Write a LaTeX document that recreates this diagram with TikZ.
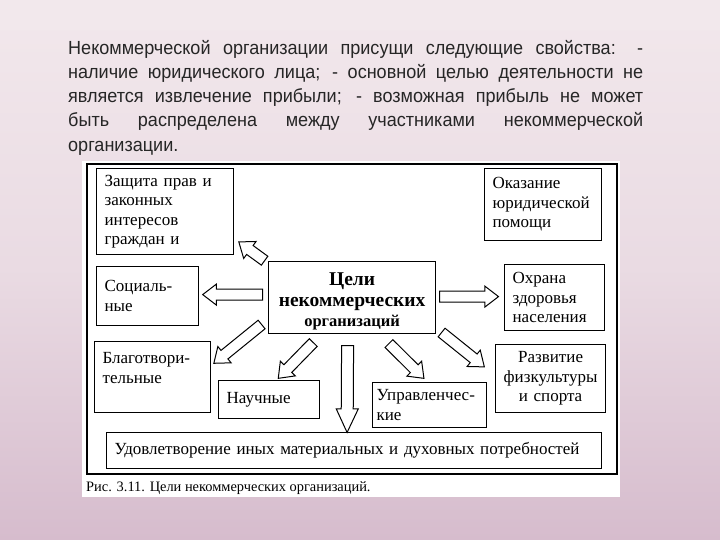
\documentclass[tikz,border=0pt]{standalone}
\usepackage{fontspec}
\setmainfont{Liberation Serif}
\newfontfamily\slidefont[FakeStretch=0.95]{Liberation Sans}
\usetikzlibrary{shapes.arrows,calc}
\definecolor{slidetop}{HTML}{F2E8EC}
\definecolor{slidebottom}{HTML}{D6BCCD}
\tikzset{
  box/.style = {draw, line width=1.2pt, anchor=north west, inner xsep=8pt, inner ysep=3pt,
                align=left, font=\fontsize{17}{19.5}\selectfont},
  goal arrow/.style = {single arrow, draw, line width=1pt, fill=white, inner sep=0pt,
                       text height=5pt, text depth=5pt, minimum width=0pt,
                       single arrow head extend=5pt, single arrow tip angle=75},
  goal/.style = {to path={let \p1=($(\tikztotarget)-(\tikztostart)$),
                 \n1={atan2(\y1,\x1)}, \n2={veclen(\x1,\y1)} in
                 node[goal arrow, minimum height=\n2, rotate=\n1, anchor=tail]
                 at (\tikztostart) {}}},
  bigdown/.style = {goal, goal arrow/.append style={text height=5.5pt, text depth=5.5pt,
                    single arrow head extend=5pt, single arrow tip angle=50}}
}
\newcommand\smallgoal{\fontsize{16.5}{20}\selectfont}

\begin{document}
\begin{tikzpicture}[x=1pt, y=-1pt]
  % slide background
  \shade[top color=slidetop, bottom color=slidebottom, middle color=slidetop!70!slidebottom]
    (0,0) rectangle (720,540);
  \fill[slidetop] (0,0) rectangle (720,30);

  \node[anchor=north west, inner sep=0pt, text width=575pt, align=justify,
        font=\slidefont\fontsize{19}{24.2}\selectfont, text=black!85] (intro) at (68,40)
    {\hyphenpenalty=10000\relax
     Некоммерческой организации присущи следующие свойства: -\linebreak
     наличие юридического лица; - основной целью деятельности не\linebreak
     является извлечение прибыли; - возможная прибыль не может\linebreak
     быть распределена между участниками некоммерческой\linebreak
     организации.};

  % the scanned figure
  \fill[white] (82,161) rectangle (620,497);
  \draw[line width=1.3pt] (87,164) rectangle (617,474);

  \node[box, minimum width=137pt, minimum height=86pt, text width=121pt] (prava) at (96,168)
    {Защита прав и\\законных\\интересов\\граждан и};
  \node[box, minimum width=117pt, minimum height=72pt, text width=101pt] (yurid) at (484,168)
    {Оказание\\юридической\\помощи};
  \node[draw, line width=1.2pt, minimum width=167pt, minimum height=72pt, align=center,
        anchor=north west, inner sep=2pt, text height=63pt, text depth=5pt,
        font=\bfseries\fontsize{19.5}{20.5}\selectfont] (goal) at (268,261)
    {Цели\\некоммерческих\\\smallgoal организаций};
  \node[box, minimum width=102pt, minimum height=59pt, text width=86pt] (social) at (96,266)
    {Социаль-\\ные};
  \node[box, minimum width=100pt, minimum height=66pt, text width=84pt] (health) at (504,264)
    {Охрана\\здоровья\\населения};
  \node[box, minimum width=116pt, minimum height=71pt, text width=100pt,
        text height=19pt, text depth=46pt] (charity) at (94,341)
    {Благотвори-\\тельные};
  \node[box, minimum width=101pt, minimum height=38pt, text width=85pt] (science) at (218,380)
    {Научные};
  \node[box, minimum width=114pt, minimum height=45pt, inner xsep=4pt, text width=106pt,
        text height=15pt, text depth=24pt] (manage) at (372,382)
    {Управленчес-\\кие};
  \node[box, minimum width=110pt, minimum height=68pt, text width=94pt, align=center] (sport) at (495,344)
    {Развитие\\физкультуры\\и спорта};
  \node[box, minimum width=495pt, minimum height=36pt, text width=479pt] (needs) at (106,432)
    {Удовлетворение иных материальных и духовных потребностей};

  \node[anchor=base west, inner sep=0pt, font=\fontsize{14.4}{16}\selectfont] (caption) at (86,491)
    {Рис. 3.11. Цели некоммерческих организаций.};

  % block arrows out of the centre
  \draw[goal] ($(goal.north west)+(-3,0)$) to ($(prava.south east)+(5,-13)$);
  \draw[goal] ($(goal.west)+(-5,-3)$) to ($(social.east)+(4,-1.5)$);
  \draw[goal] ($(goal.east)+(3,-1)$) to ($(health.west)+(-6,-1)$);
  \draw[goal] ($(goal.south west)+(-6,-10)$) to ($(charity.north east)+(3,22)$);
  \draw[goal] ($(goal.south)+(-38.5,8)$) to ($(science.north)+(9.5,-2)$);
  \draw[bigdown] ($(goal.south)+(-4.5,11)$) to ($(needs.north)+(-7,0)$);
  \draw[goal] ($(goal.south)+(36.5,9)$) to ($(manage.north)+(-6,-4)$);
  \draw[goal] ($(goal.south east)+(5,-2)$) to ($(sport.west)+(-11,-12)$);
\end{tikzpicture}
\end{document}
